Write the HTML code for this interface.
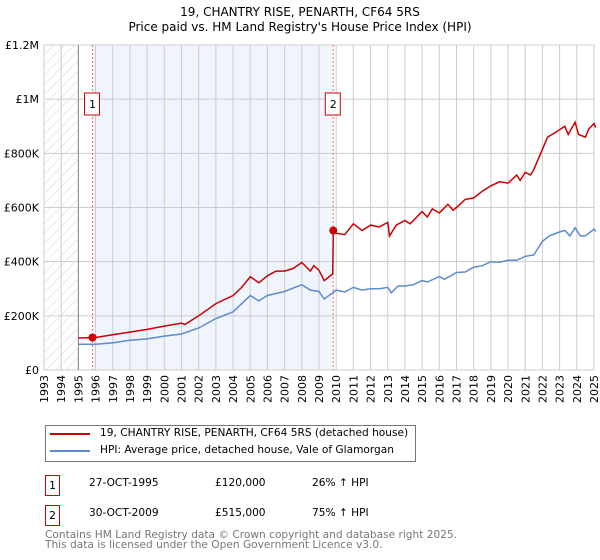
<!DOCTYPE html>
<html><head><meta charset="utf-8"><style>
body{margin:0;background:#fff;font-family:"DejaVu Sans","Liberation Sans",sans-serif;}
#wrap{position:relative;width:600px;height:560px;overflow:hidden}
.t{position:absolute;font-size:10.6px;color:#000;white-space:nowrap}
.box{position:absolute;border:1px solid #c00;width:13px;height:19px;font-size:11px;text-align:center;line-height:19px}
</style></head><body><div id="wrap">
<svg id="svg" width="600" height="420" style="position:absolute;left:0;top:0">
<defs><pattern id="hatch" width="7" height="7" patternUnits="userSpaceOnUse" patternTransform="rotate(45)"><line x1="0" y1="0" x2="0" y2="7" stroke="#d4d4d4" stroke-width="1"/></pattern></defs>
<text x="300" y="16" text-anchor="middle" font-size="12">19, CHANTRY RISE, PENARTH, CF64 5RS</text>
<text x="300" y="31" text-anchor="middle" font-size="12">Price paid vs. HM Land Registry's House Price Index (HPI)</text>
<g id="g"></g>
</svg>
<div style="position:absolute;left:45px;top:425px;width:369px;height:35px;border:1px solid #777"></div>
<div style="position:absolute;left:50px;top:433px;width:40px;height:2px;background:#c00"></div>
<div class="t" style="left:100px;top:427px">19, CHANTRY RISE, PENARTH, CF64 5RS (detached house)</div>
<div style="position:absolute;left:50px;top:450px;width:40px;height:2px;background:#5b8bd0"></div>
<div class="t" style="left:100px;top:444px">HPI: Average price, detached house, Vale of Glamorgan</div>
<div class="box" style="left:45px;top:475px">1</div>
<div class="t" style="left:89px;top:477px">27-OCT-1995</div>
<div class="t" style="left:215px;top:477px">£120,000</div>
<div class="t" style="left:312px;top:477px">26% ↑ HPI</div>
<div class="box" style="left:45px;top:505px">2</div>
<div class="t" style="left:89px;top:507px">30-OCT-2009</div>
<div class="t" style="left:215px;top:507px">£515,000</div>
<div class="t" style="left:312px;top:507px">75% ↑ HPI</div>
<div class="t" style="left:45px;top:530px;color:#777;line-height:10px">Contains HM Land Registry data © Crown copyright and database right 2025.<br>This data is licensed under the Open Government Licence v3.0.</div>
</div>
<script>
const yTicks=[0,200000,400000,600000,800000,1000000,1200000];
const yTickLabels=["£0","£200K","£400K","£600K","£800K","£1M","£1.2M"];
const years=[1993,1994,1995,1996,1997,1998,1999,2000,2001,2002,2003,2004,2005,2006,2007,2008,2009,2010,2011,2012,2013,2014,2015,2016,2017,2018,2019,2020,2021,2022,2023,2024,2025];
const redT=[1995,1996,1997,1998,1999,2000,2001,2001.2,2002,2003,2004,2004.5,2005,2005.5,2006,2006.5,2007,2007.5,2008,2008.5,2008.7,2009,2009.3,2009.8,2009.83,2010,2010.5,2011,2011.5,2012,2012.5,2013,2013.1,2013.5,2014,2014.3,2015,2015.3,2015.6,2016,2016.5,2016.8,2017,2017.5,2018,2018.5,2019,2019.5,2020,2020.5,2020.7,2021,2021.3,2021.5,2022,2022.3,2022.7,2023.3,2023.5,2023.9,2024.1,2024.5,2024.7,2025,2025.1];
const redV=[118,120,130,140,150,162,173,168,200,245,275,305,345,322,348,365,365,375,397,365,385,368,330,355,515,505,500,540,515,535,528,545,495,535,552,540,585,565,595,580,612,590,600,630,635,660,680,695,690,720,700,730,720,740,815,860,875,900,870,915,870,860,890,910,895];
const blueT=[1995,1996,1997,1998,1999,2000,2001,2002,2003,2004,2005,2005.5,2006,2007,2008,2008.5,2009,2009.3,2009.8,2010,2010.5,2011,2011.5,2012,2012.5,2013,2013.2,2013.6,2014,2014.5,2015,2015.3,2016,2016.3,2017,2017.5,2018,2018.5,2019,2019.5,2020,2020.5,2021,2021.5,2022,2022.4,2023,2023.3,2023.6,2023.9,2024.2,2024.5,2025,2025.1];
const blueV=[95,95,100,110,115,125,133,155,190,215,275,255,275,290,315,295,290,262,285,295,288,305,295,300,300,305,285,310,310,315,330,325,345,335,360,362,380,385,400,398,405,405,420,425,475,495,510,515,495,525,495,495,520,512];
const sales=[[1995.82,120000,"1"],[2009.83,515000,"2"]];
const X0=44,X1=594,Y0=370,Y1=45;
const xs=t=>X0+(t-1993)/(2025-1993)*(X1-X0);
const ys=v=>Y0-v/1200000*(Y0-Y1);
const g=document.getElementById('g');const NS="http://www.w3.org/2000/svg";
function mk(tag,a,name){const e=document.createElementNS(NS,tag);for(const k in a)e.setAttribute(k,a[k]);


g.appendChild(e);return e;}
mk('rect',{x:xs(1993),y:Y1,width:xs(1995)-xs(1993),height:Y0-Y1,fill:'url(#hatch)'},'pre-data-hatch');
mk('rect',{x:xs(sales[0][0]),y:Y1,width:xs(sales[1][0])-xs(sales[0][0]),height:Y0-Y1,fill:'#f0f4fd'},'ownership-shade');
years.forEach(y=>{mk('line',{x1:xs(y),x2:xs(y),y1:Y1,y2:Y0,stroke:'#ccc'},'x-grid-line');
const t=mk('text',{x:0,y:0,'font-size':11,'text-anchor':'end',transform:`translate(${xs(y)+4},${Y0+5}) rotate(-90)`},'x-tick-label');t.textContent=y;});
yTicks.forEach((v,i)=>{mk('line',{x1:X0,x2:X1,y1:ys(v),y2:ys(v),stroke:'#ccc'},'y-grid-line');
const t=mk('text',{x:X0-5,y:ys(v)+4,'font-size':11,'text-anchor':'end'},'y-tick-label');t.textContent=yTickLabels[i];});
mk('line',{x1:xs(1995),x2:xs(1995),y1:Y1,y2:Y0,stroke:'#888'},'data-start-line');
sales.forEach(s=>{mk('line',{x1:xs(s[0]),x2:xs(s[0]),y1:Y1,y2:Y0,stroke:'#f66','stroke-dasharray':'2,2'},'sale-vline');});
const pts=(T,V)=>T.map((t,i)=>xs(t).toFixed(1)+','+ys(V[i]*1000).toFixed(1)).join(' ');
mk('polyline',{points:pts(blueT,blueV),fill:'none',stroke:'#5b8bd0','stroke-width':1.5},'hpi-line');
mk('polyline',{points:pts(redT,redV),fill:'none',stroke:'#c00','stroke-width':1.5},'property-price-line');
sales.forEach(s=>{mk('circle',{cx:xs(s[0]),cy:ys(s[1]),r:4,fill:'#c00'},'sale-point');
mk('rect',{x:xs(s[0])-8,y:93,width:15,height:22,fill:'#fff',stroke:'#c00'},'sale-label-box');
const t=mk('text',{x:xs(s[0]),y:108,'font-size':11,'text-anchor':'middle'},'sale-label');t.textContent=s[2];});
</script></body></html>
